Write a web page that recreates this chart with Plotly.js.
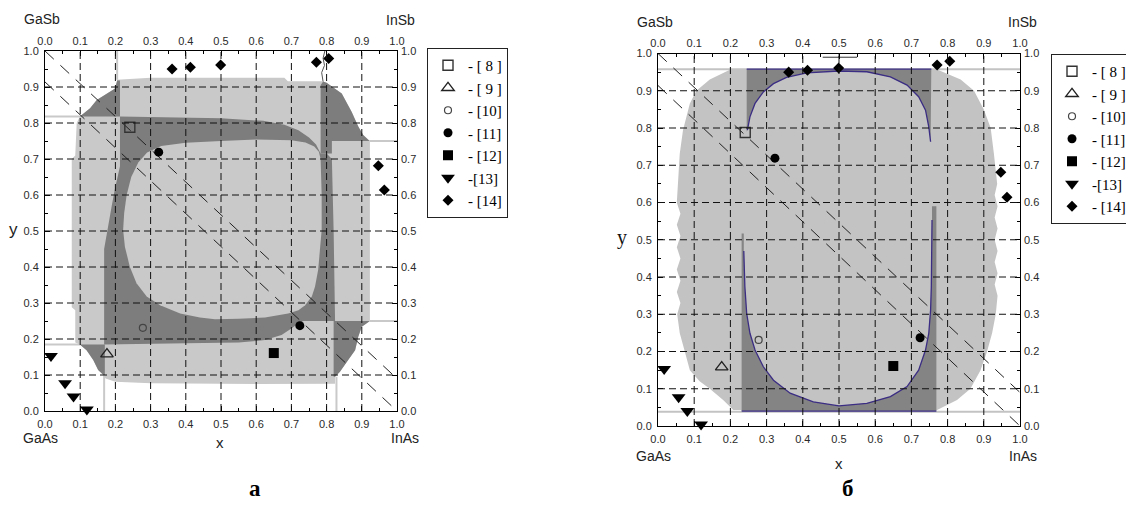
<!DOCTYPE html>
<html><head><meta charset="utf-8">
<script src="https://cdn.plot.ly/plotly-3.0.1.min.js"></script>
<style>html,body{margin:0;padding:0;background:#fff;}#chart{width:1126px;height:520px;}</style>
</head><body><div id="chart"></div>
<script>
// ---------------- DATA ----------------
const tickValues = [0,0.1,0.2,0.3,0.4,0.5,0.6,0.7,0.8,0.9,1.0];
const tickLabels = ['0.0','0.1','0.2','0.3','0.4','0.5','0.6','0.7','0.8','0.9','1.0'];
const minorTickValues = [0.05,0.15,0.25,0.35,0.45,0.55,0.65,0.75,0.85,0.95];
const cornerLabels = ['GaSb','InSb','GaAs','InAs'];
const panelLabels = ['а','б'];
const refLabels = ['- [ 8 ]','- [ 9 ]','- [10]','- [11]','- [12]','-[13]','- [14]'];

// experimental points (x = In fraction, y = Sb fraction)
const ref8X = [0.241];  const ref8Y = [0.788];
const ref9X = [0.176];  const ref9Y = [0.158];
const ref10X = [0.278]; const ref10Y = [0.231];
const ref11X = [0.323, 0.724]; const ref11Y = [0.719, 0.237];
const ref12X = [0.650]; const ref12Y = [0.161];
const ref13X = [0.017, 0.057, 0.081, 0.119]; const ref13Y = [0.153, 0.077, 0.040, 0.004];
const ref14X = [0.361, 0.413, 0.499, 0.771, 0.806, 0.947, 0.964];
const ref14Y = [0.950, 0.955, 0.961, 0.969, 0.979, 0.681, 0.614];

// lattice-matched (dashed) lines
const gasbLineX = [0, 1]; const gasbLineY = [1.0, 0.09];
const inasLineX = [0, 1]; const inasLineY = [0.914, 0.0];

// ---- panel a : regions ----
const aLightX = [0.099,0.128,0.147,0.175,0.199,0.205,0.30,0.50,0.68,0.69,0.786,0.800,0.843,0.871,0.890,0.904,0.919,0.923,0.923,0.900,0.890,0.881,0.857,0.838,0.824,0.824,0.60,0.40,0.30,0.20,0.172,0.166,0.151,0.137,0.118,0.099,0.086,0.086,0.076,0.076,0.086,0.090];
const aLightY = [0.818,0.841,0.864,0.882,0.896,0.920,0.926,0.926,0.926,0.916,0.916,0.912,0.882,0.831,0.790,0.767,0.753,0.750,0.250,0.234,0.206,0.169,0.137,0.109,0.095,0.076,0.075,0.076,0.077,0.081,0.090,0.100,0.114,0.142,0.169,0.185,0.190,0.280,0.288,0.700,0.710,0.800];
const aDarkTLX = [0.099,0.128,0.147,0.175,0.199,0.205,0.213,0.213];
const aDarkTLY = [0.818,0.841,0.864,0.882,0.896,0.918,0.918,0.818];
const aRingX = [0.213,0.35,0.50,0.62,0.68,0.72,0.75,0.77,0.783,0.800,0.815,0.820,0.824,0.734,0.720,0.701,0.672,0.625,0.55,0.40,0.168,0.168,0.175,0.180,0.190,0.199,0.208,0.213];
const aRingY = [0.818,0.816,0.813,0.806,0.795,0.780,0.760,0.740,0.715,0.715,0.700,0.500,0.250,0.250,0.244,0.230,0.211,0.197,0.190,0.188,0.185,0.450,0.490,0.526,0.572,0.619,0.656,0.680];
const aDarkTRX = [0.783,0.783,0.790,0.800,0.843,0.871,0.890,0.904,0.919,0.923,0.815,0.815];
const aDarkTRY = [0.715,0.905,0.915,0.912,0.882,0.831,0.790,0.767,0.753,0.750,0.750,0.715];
const aDarkBLX = [0.099,0.170,0.170,0.166,0.151,0.137,0.118];
const aDarkBLY = [0.185,0.185,0.100,0.100,0.114,0.142,0.169];
const aDarkBRX = [0.820,0.923,0.900,0.890,0.881,0.857,0.838,0.824,0.820];
const aDarkBRY = [0.250,0.250,0.234,0.206,0.169,0.137,0.109,0.095,0.095];
const aInnerX = [0.222,0.225,0.232,0.245,0.265,0.290,0.330,0.40,0.50,0.60,0.70,0.740,0.765,0.778,0.783,0.786,0.786,0.781,0.776,0.767,0.758,0.739,0.720,0.691,0.625,0.55,0.483,0.44,0.384,0.327,0.289,0.260,0.241,0.227];
const aInnerY = [0.503,0.550,0.600,0.650,0.690,0.718,0.736,0.745,0.750,0.754,0.752,0.746,0.735,0.720,0.700,0.600,0.503,0.447,0.392,0.345,0.318,0.294,0.280,0.271,0.260,0.256,0.255,0.260,0.271,0.294,0.318,0.355,0.401,0.456];
const aFringeX = [0,0.1,null,0,0.1,null,0.923,1,null,0.923,1,null,0.168,0.168,null,0.828,0.828,null,0.205,0.205];
const aFringeY = [0.818,0.818,null,0.185,0.185,null,0.75,0.75,null,0.25,0.25,null,0.1,0,null,0.095,0,null,0.92,1];
const aWireX = [0.790,0.786,0.794,0.790,0.795];
const aWireY = [0.915,0.940,0.960,0.980,1.000];

// ---- panel б : regions ----
const bLightX = [0.200,0.500,0.771,0.836,0.873,0.900,0.919,0.928,0.937,0.930,0.938,0.930,0.938,0.930,0.938,0.930,0.938,0.930,0.938,0.933,0.923,0.909,0.891,0.863,0.826,0.771,0.500,0.208,0.180,0.143,0.115,0.088,0.074,0.060,0.053,0.062,0.052,0.062,0.052,0.062,0.052,0.062,0.052,0.062,0.052,0.060,0.069,0.088,0.106,0.143];
const bLightY = [0.957,0.957,0.957,0.930,0.900,0.850,0.800,0.730,0.650,0.620,0.590,0.560,0.530,0.500,0.470,0.440,0.410,0.380,0.350,0.300,0.250,0.200,0.150,0.100,0.070,0.043,0.043,0.043,0.070,0.100,0.120,0.150,0.200,0.250,0.300,0.330,0.360,0.390,0.420,0.450,0.480,0.510,0.540,0.570,0.600,0.730,0.794,0.866,0.900,0.930];
const bTopCurveX = [0.247,0.254,0.268,0.291,0.319,0.355,0.411,0.500,0.577,0.642,0.688,0.720,0.739,0.748,0.753];
const bTopCurveY = [0.794,0.830,0.866,0.897,0.919,0.936,0.948,0.953,0.951,0.937,0.915,0.884,0.848,0.803,0.763];
const bBotCurveX = [0.237,0.240,0.245,0.254,0.268,0.291,0.319,0.365,0.429,0.500,0.577,0.642,0.688,0.720,0.739,0.748,0.753,0.755,0.757];
const bBotCurveY = [0.470,0.374,0.302,0.249,0.204,0.159,0.123,0.088,0.065,0.054,0.061,0.079,0.106,0.150,0.204,0.249,0.311,0.374,0.553];
const bTopEdgeX = [0.245,0.755]; const bTopEdgeY = [0.958,0.958];
const bBotEdgeX = [0.231,0.769]; const bBotEdgeY = [0.040,0.040];
const bLeftStripX = [0.231,0.237]; const bLeftStripTop = 0.517;
const bRightStripX = [0.757,0.769]; const bRightStripTop = 0.590;
const bFringeX = [0,1,null,0,1]; const bFringeY = [0.958,0.958,null,0.038,0.038];
const bMarkX = [0.455,0.550,null,0.500,0.500]; const bMarkY = [0.990,0.990,null,0.990,1.0];

// ---------------- BUILD ----------------
const W = 1126, H = 520;
const P1 = {l:45, r:397, t:51, b:411};
const P2 = {l:658, r:1020, t:53.5, b:426};
const lightA = '#c9c9c9', darkA = '#7d7d7d';
const lightB = '#c3c3c3', darkB = '#848484', purple = '#3b2d83';

function poly(x, y, color, xa, ya){
  return {x:x, y:y, xaxis:xa, yaxis:ya, mode:'lines', fill:'toself', fillcolor:color,
          line:{width:0, color:color}, hoverinfo:'skip', showlegend:false};
}
function line(x, y, color, width, xa, ya, dash){
  return {x:x, y:y, xaxis:xa, yaxis:ya, mode:'lines', line:{color:color, width:width, dash:dash||'solid'},
          hoverinfo:'skip', showlegend:false, connectgaps:false};
}
const refX = [ref8X, ref9X, ref10X, ref11X, ref12X, ref13X, ref14X];
const refY = [ref8Y, ref9Y, ref10Y, ref11Y, ref12Y, ref13Y, ref14Y];
const refMarkers = [
  {symbol:'square-open', size:10, color:'#333', line:{width:1.4, color:'#333'}},
  {symbol:'triangle-up-open', size:11, color:'#222', line:{width:1.3, color:'#222'}},
  {symbol:'circle-open', size:7, color:'#444', line:{width:1.2, color:'#444'}},
  {symbol:'circle', size:9, color:'#000'},
  {symbol:'square', size:10, color:'#000'},
  {symbol:'triangle-down', size:12, color:'#000'},
  {symbol:'diamond', size:8.5, color:'#000'}
];
function refTraces(xa, ya, legendId){
  return refLabels.map((lab,i)=>({x:refX[i], y:refY[i], xaxis:xa, yaxis:ya, mode:'markers', name:lab,
    marker:refMarkers[i], cliponaxis:false, legend:legendId, showlegend:true, hoverinfo:'skip'}));
}

const traces = [];
// panel a
traces.push(poly(aLightX, aLightY, lightA, 'x', 'y'));
traces.push(line(aFringeX, aFringeY, lightA, 2, 'x', 'y'));
traces.push(line(aWireX, aWireY, '#555', 1, 'x', 'y'));
traces.push(poly(aDarkTLX, aDarkTLY, darkA, 'x', 'y'));
traces.push(poly(aRingX, aRingY, darkA, 'x', 'y'));
traces.push(poly(aDarkTRX, aDarkTRY, darkA, 'x', 'y'));
traces.push(poly(aDarkBLX, aDarkBLY, darkA, 'x', 'y'));
traces.push(poly(aDarkBRX, aDarkBRY, darkA, 'x', 'y'));
traces.push(poly(aInnerX, aInnerY, lightA, 'x', 'y'));
traces.push(line(gasbLineX, gasbLineY, '#222', 1, 'x', 'y', '12px,9px'));
traces.push(line(inasLineX, inasLineY, '#222', 1, 'x', 'y', '12px,9px'));
refTraces('x','y','legend').forEach(t=>traces.push(t));
// panel б
traces.push(poly(bLightX, bLightY, lightB, 'x2', 'y2'));
traces.push(line(bFringeX, bFringeY, lightB, 2, 'x2', 'y2'));
const bTopDarkX = [bTopEdgeX[0], bTopEdgeX[1], bTopCurveX[bTopCurveX.length-1]].concat(bTopCurveX.slice().reverse()).concat([bTopEdgeX[0]]);
const bTopDarkY = [bTopEdgeY[0], bTopEdgeY[1], bTopCurveY[bTopCurveY.length-1]].concat(bTopCurveY.slice().reverse()).concat([bTopCurveY[0]-0.004]);
traces.push(poly(bTopDarkX, bTopDarkY, darkB, 'x2', 'y2'));
const bBotDarkX = [bLeftStripX[0], bLeftStripX[1]].concat(bBotCurveX).concat([bRightStripX[0], bRightStripX[1], bBotEdgeX[1], bBotEdgeX[0]]);
const bBotDarkY = [bLeftStripTop, bLeftStripTop].concat(bBotCurveY).concat([bRightStripTop, bRightStripTop, bBotEdgeY[1], bBotEdgeY[0]]);
traces.push(poly(bBotDarkX, bBotDarkY, darkB, 'x2', 'y2'));
traces.push(line(bTopCurveX, bTopCurveY, purple, 1.3, 'x2', 'y2'));
traces.push(line(bBotCurveX, bBotCurveY, purple, 1.3, 'x2', 'y2'));
traces.push(line(bTopEdgeX, bTopEdgeY, purple, 1.2, 'x2', 'y2'));
traces.push(line(bBotEdgeX, bBotEdgeY, purple, 1.2, 'x2', 'y2'));
traces.push(line(bMarkX, bMarkY, '#333', 1, 'x2', 'y2'));
traces.push(line(gasbLineX, gasbLineY, '#222', 1, 'x2', 'y2', '12px,9px'));
traces.push(line(inasLineX, inasLineY, '#222', 1, 'x2', 'y2', '12px,9px'));
refTraces('x2','y2','legend2').forEach(t=>traces.push(t));
[['x3','y'],['x','y3'],['x4','y2'],['x2','y4']].forEach(p=>traces.push({x:[tickValues[5]], y:[tickValues[5]], xaxis:p[0], yaxis:p[1],
  mode:'markers', marker:{opacity:0}, hoverinfo:'skip', showlegend:false}));

const tickFont = {family:'Liberation Sans, Arial, sans-serif', size:11, color:'#2a2a2a'};
function ax(extra){
  return Object.assign({range:[0,1], autorange:false, tickmode:'array', tickvals:tickValues, ticktext:tickLabels,
    ticks:'inside', ticklen:5, tickwidth:1, tickcolor:'#000', showgrid:false, zeroline:false, tickangle:0,
    minor:{tickmode:'array', tickvals:minorTickValues, ticks:'inside', ticklen:3, tickwidth:1, tickcolor:'#000', showgrid:false},
    tickfont:tickFont, fixedrange:true, ticklabelstandoff:3, automargin:false}, extra);
}
const d1x = [P1.l/W, P1.r/W], d1y = [1-P1.b/H, 1-P1.t/H];
const d2x = [P2.l/W, P2.r/W], d2y = [1-P2.b/H, 1-P2.t/H];

const shapes = [];
[['x','y'],['x2','y2']].forEach(p=>{
  tickValues.slice(1,-1).forEach(v=>{
    shapes.push({type:'line', xref:p[0], yref:p[1], x0:v, x1:v, y0:0, y1:1, layer:'above', line:{color:'#111', width:1, dash:'7px,4px'}});
    shapes.push({type:'line', xref:p[0], yref:p[1], x0:0, x1:1, y0:v, y1:v, layer:'above', line:{color:'#111', width:1, dash:'7px,4px'}});
  });
});

function ann(text, px, py, font){
  return {text:text, xref:'paper', yref:'paper', x:px/W, y:1-py/H, xanchor:'center', yanchor:'middle', showarrow:false, font:font};
}
const sans = {family:'Liberation Sans, Arial, sans-serif', size:14, color:'#222'};
const annotations = [
  ann(cornerLabels[0], 42, 19, sans), ann(cornerLabels[1], 400, 20, sans),
  ann(cornerLabels[2], 40, 438, sans), ann(cornerLabels[3], 405, 438, sans),
  ann('x', 220, 442, {family:'Liberation Sans, Arial, sans-serif', size:15, color:'#222'}),
  ann('y', 13, 229, {family:'Liberation Sans, Arial, sans-serif', size:17, color:'#222'}),
  ann(cornerLabels[0], 655, 22, sans), ann(cornerLabels[1], 1022, 22, sans),
  ann(cornerLabels[2], 653, 456, sans), ann(cornerLabels[3], 1023, 456, sans),
  ann('x', 839, 463, {family:'Liberation Sans, Arial, sans-serif', size:15, color:'#222'}),
  ann('y', 622, 238, {family:'Liberation Serif, Times New Roman, serif', size:20, color:'#111'}),
  ann('<b>'+panelLabels[0]+'</b>', 255, 488, {family:'Liberation Serif, Times New Roman, serif', size:23, color:'#000'}),
  ann('<b>'+panelLabels[1]+'</b>', 848, 488, {family:'Liberation Serif, Times New Roman, serif', size:23, color:'#000'})
];

const legendBase = {xref:'paper', yref:'paper', xanchor:'left', yanchor:'top', bgcolor:'#fff',
  bordercolor:'#222', borderwidth:1, font:{family:'Liberation Serif, Times New Roman, serif', size:15, color:'#000'},
  tracegroupgap:0, itemwidth:30, itemclick:false, itemdoubleclick:false};

const layout = {
  width:W, height:H, margin:{l:0, r:0, t:0, b:0, autoexpand:false}, paper_bgcolor:'#fff', plot_bgcolor:'#fff',
  showlegend:true,
  xaxis: ax({domain:d1x, anchor:'y', side:'bottom', showline:true, linecolor:'#000', linewidth:1, mirror:true}),
  yaxis: ax({domain:d1y, anchor:'x', side:'left', showline:true, linecolor:'#000', linewidth:1, mirror:true}),
  xaxis3: ax({overlaying:'x', anchor:'y', side:'top'}),
  yaxis3: ax({overlaying:'y', anchor:'x', side:'right'}),
  xaxis2: ax({domain:d2x, anchor:'y2', side:'bottom', showline:true, linecolor:'#000', linewidth:1, mirror:true}),
  yaxis2: ax({domain:d2y, anchor:'x2', side:'left', showline:true, linecolor:'#000', linewidth:1, mirror:true}),
  xaxis4: ax({overlaying:'x2', anchor:'y2', side:'top'}),
  yaxis4: ax({overlaying:'y2', anchor:'x2', side:'right'}),
  legend: Object.assign({x:427/W, y:1-48/H}, legendBase),
  legend2: Object.assign({x:1051/W, y:1-54/H}, legendBase),
  shapes: shapes,
  annotations: annotations
};
Plotly.newPlot('chart', traces, layout, {displayModeBar:false, staticPlot:true});
</script>
</body></html>
